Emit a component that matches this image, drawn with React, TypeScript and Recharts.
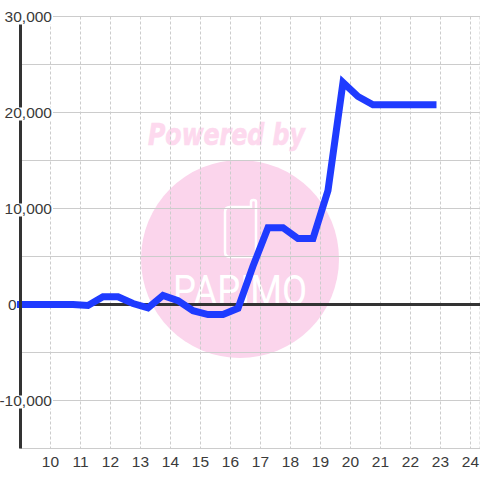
import React from 'react';
import { ComposedChart, Line, XAxis, YAxis, CartesianGrid, ReferenceLine } from 'recharts';

const hours = [9, 9.75, 10.25, 10.75, 11.25, 11.75, 12.25, 12.75, 13.25, 13.75, 14.25, 14.75, 15.25, 15.75, 16.25, 16.75, 17.25, 17.75, 18.25, 18.75, 19.25, 19.75, 20.25, 20.75, 21.25, 21.75, 22.25, 22.75];
const values = [0, 0, 0, 0, -100, 800, 800, 100, -350, 950, 400, -650, -1050, -1050, -400, 4000, 8000, 8000, 6875, 6875, 11875, 23125, 21670, 20800, 20800, 20800, 20800, 20800];
const xTicks = [10, 11, 12, 13, 14, 15, 16, 17, 18, 19, 20, 21, 22, 23, 24];
const yTicks = [-15000, -10000, -5000, 0, 5000, 10000, 15000, 20000, 25000, 30000];
const yLabels = [-10000, 0, 10000, 20000, 30000];

const chartData = hours.map((hour, i) => ({ hour, value: values[i] }));

const font = '"Liberation Sans", Arial, sans-serif';

// white plate behind the label cuts the axis line and the grid line
const YTick = ({ y, payload }: any) => {
  if (!yLabels.includes(payload.value)) return null;
  const label = payload.value.toLocaleString('en-US');
  const isZero = payload.value === 0;
  return (
    <g>
      {!isZero && <rect x={2} y={y - 5} width={51} height={13} fill="#fff" />}
      <text x={isZero ? 16.5 : 52} y={y + 5.5} textAnchor="end" fontSize={15.5} fontFamily={font} fill="#3a3a3a">
        {label}
      </text>
    </g>
  );
};

const Watermark = () => (
  <svg width={480} height={480} style={{ position: 'absolute', left: 0, top: 0 }}>
    <text x={148} y={144.5} fontFamily='"DejaVu Sans"' fontWeight="bold" fontStyle="italic" fontSize={30} textLength={157} lengthAdjust="spacingAndGlyphs" fill="#FDD9EE" stroke="#FDD9EE" strokeWidth={0.7}>
      Powered by
    </text>
    <circle cx={240} cy={259} r={99} fill="#FBD5EC" />
    <path d="M230 207 H251 V202 Q251 200 253.5 200 Q256 200 256 202 V252 Q256 257 251 257 H230 Q225 257 225 252 V212 Q225 207 230 207 Z" fill="none" stroke="#fff" strokeWidth={2.5} />
    <text x={173} y={305} fontFamily="Roboto" fontWeight={400} fontSize={42} textLength={134} lengthAdjust="spacingAndGlyphs" fill="#fff">
      PAPIMO
    </text>
  </svg>
);

export default function App() {
  return (
    <div style={{ position: 'absolute', left: 0, top: 0, width: 480, height: 480, overflow: 'hidden', background: '#fff' }}>
      <Watermark />
      <div style={{ position: 'absolute', left: 0, top: 0 }}>
        <ComposedChart
          width={480}
          height={480}
          data={chartData}
          margin={{ top: 16.5, right: 0, bottom: 0, left: 0.5 }}
        >
          <CartesianGrid horizontal vertical={false} stroke="#ccc" strokeWidth={1} />
          <CartesianGrid horizontal={false} vertical stroke="#ccc" strokeWidth={1} strokeDasharray="3 2" />
          <XAxis
            type="number"
            dataKey="hour"
            domain={[9, 24.317]}
            ticks={xTicks}
            interval={0}
            height={31.5}
            axisLine={false}
            tickLine={false}
            tickMargin={1}
            tick={{ fontSize: 15.5, fontFamily: font, fill: '#3a3a3a' }}
          />
          <YAxis
            type="number"
            domain={[-15000, 30000]}
            ticks={yTicks}
            interval={0}
            width={20}
            axisLine={{ stroke: '#333', strokeWidth: 3 }}
            tickLine={false}
            tick={<YTick />}
          />
          <ReferenceLine y={0} stroke="#333" strokeWidth={3} />
          <Line
            type="linear"
            dataKey="value"
            stroke="#1F3BFF"
            strokeWidth={7}
            strokeLinecap="square"
            strokeLinejoin="miter"
            dot={false}
            isAnimationActive={false}
          />
        </ComposedChart>
      </div>
    </div>
  );
}
